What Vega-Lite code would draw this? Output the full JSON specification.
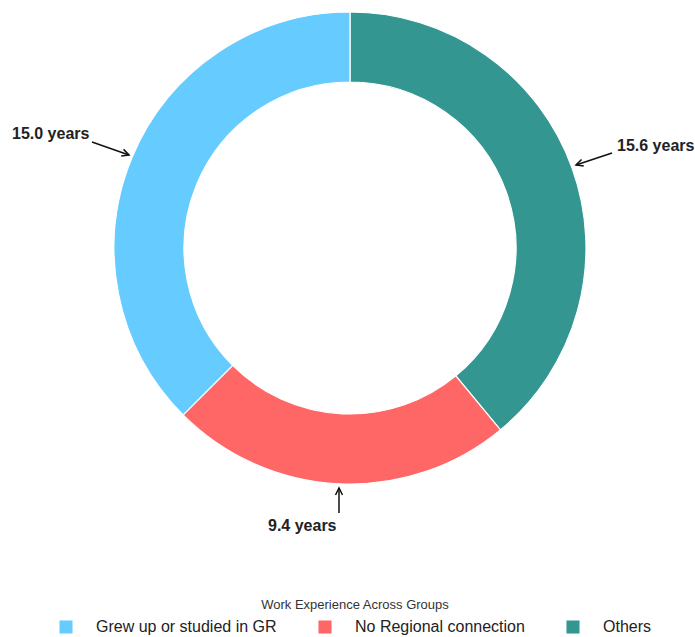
{
  "$schema": "https://vega.github.io/schema/vega-lite/v6.json",
  "width": 695,
  "height": 560,
  "padding": 0,
  "config": {
    "view": {"stroke": null},
    "font": "Liberation Sans"
  },
  "datasets": {
    "groups": [
      {"group": "Others", "years": 15.6, "ord": 1, "cx": 0, "cy": 0},
      {"group": "No Regional connection", "years": 9.4, "ord": 2, "cx": 0, "cy": 0},
      {"group": "Grew up or studied in GR", "years": 15.0, "ord": 3, "cx": 0, "cy": 0}
    ],
    "labels": [
      {"label": "15.0 years", "lx": -338, "ly": 109.5, "tx": -258, "ty": 106, "hx": -221, "hy": 93, "angle": 109.4},
      {"label": "15.6 years", "lx": 267, "ly": 97, "tx": 262, "ty": 95, "hx": 226, "hy": 83, "angle": 251.6},
      {"label": "9.4 years", "lx": -82, "ly": -283, "tx": -11, "ty": -265, "hx": -11, "hy": -240, "angle": 0}
    ]
  },
  "layer": [
    {
      "data": {"name": "groups"},
      "mark": {"type": "arc", "innerRadius": 166, "outerRadius": 236, "stroke": "white", "strokeWidth": 1.2},
      "encoding": {
        "x": {"field": "cx", "type": "quantitative", "scale": {"domain": [-350, 345], "nice": false, "zero": false}, "axis": null},
        "y": {"field": "cy", "type": "quantitative", "scale": {"domain": [-312, 248], "nice": false, "zero": false}, "axis": null},
        "theta": {"field": "years", "type": "quantitative", "stack": true},
        "order": {"field": "ord", "type": "quantitative"},
        "color": {
          "field": "group",
          "type": "nominal",
          "scale": {
            "domain": ["Grew up or studied in GR", "No Regional connection", "Others"],
            "range": ["#66CCFF", "#FF6666", "#339691"]
          },
          "legend": {
            "title": "Work Experience Across Groups",
            "orient": "none",
            "legendX": 58,
            "legendY": 599,
            "direction": "horizontal",
            "titleAnchor": "middle",
            "titleFontSize": 13,
            "titleFontWeight": "normal",
            "titleColor": "#333333",
            "titlePadding": 7,
            "titleLimit": 500,
            "symbolType": "square",
            "symbolSize": 170,
            "symbolStrokeWidth": 0,
            "labelFontSize": 16,
            "labelColor": "#222222",
            "labelOffset": 22,
            "labelLimit": 400,
            "columnPadding": 40
          }
        }
      }
    },
    {
      "data": {"name": "labels"},
      "mark": {"type": "rule", "color": "#111111", "strokeWidth": 1.5},
      "encoding": {
        "x": {"field": "tx", "type": "quantitative"},
        "y": {"field": "ty", "type": "quantitative"},
        "x2": {"field": "hx"},
        "y2": {"field": "hy"}
      }
    },
    {
      "data": {"name": "labels"},
      "mark": {"type": "point", "shape": "M-1,2L0,0L1,2", "size": 49, "filled": false, "stroke": "#111111", "strokeWidth": 1.5, "opacity": 1},
      "encoding": {
        "x": {"field": "hx", "type": "quantitative"},
        "y": {"field": "hy", "type": "quantitative"},
        "angle": {"field": "angle", "type": "quantitative", "scale": null}
      }
    },
    {
      "data": {"name": "labels"},
      "mark": {"type": "text", "align": "left", "baseline": "alphabetic", "fontSize": 16, "fontWeight": "bold", "color": "#222222"},
      "encoding": {
        "x": {"field": "lx", "type": "quantitative"},
        "y": {"field": "ly", "type": "quantitative"},
        "text": {"field": "label"}
      }
    }
  ]
}
